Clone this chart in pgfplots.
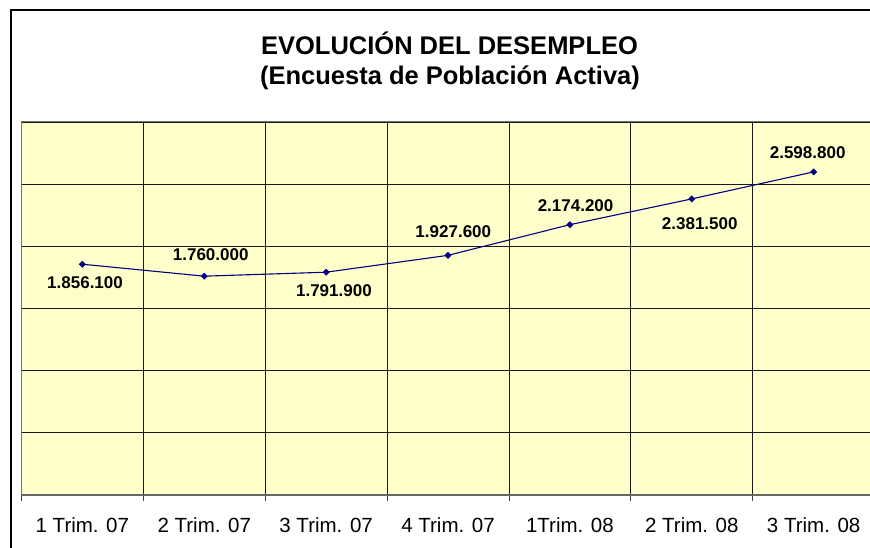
\documentclass[border=0pt]{standalone}
\usepackage{pgfplots}
\usepackage{pgfplotstable}
\pgfplotsset{compat=1.18}
\usepackage{fontspec}
\setmainfont{Liberation Sans}
\definecolor{plotbg}{HTML}{FFFFCC}
\definecolor{navyline}{HTML}{000080}

\pgfplotstableread{
x y dx dy lab
0 1856.1 2.7 -18.8 1.856.100
1 1760.0 6.5 21.2 1.760.000
2 1791.9 7.8 -18.2 1.791.900
3 1927.6 5.3 23.3 1.927.600
4 2174.2 5.7 18.7 2.174.200
5 2381.5 8.0 -25.0 2.381.500
6 2598.8 -6.0 19.0 2.598.800
}\datatable

\begin{document}
\begin{tikzpicture}
\path[use as bounding box, clip] (0,0) rectangle (870pt,547pt);
\fill[white] (0,0) rectangle (870pt,547pt);
\draw[line width=1.5pt, black] (11pt,-20pt) -- (11pt,537pt) -- (900pt,537pt);
\node[font=\bfseries\fontsize{25.5}{30}\selectfont, anchor=base, inner sep=0pt] at (449.5pt,492.7pt) {EVOLUCIÓN DEL DESEMPLEO};
\node[font=\bfseries\fontsize{25.5}{30}\selectfont, anchor=base, inner sep=0pt] at (450pt,462.5pt) {(Encuesta de Población Activa)};
\begin{axis}[
  at={(21.4pt,52pt)}, anchor=south west,
  scale only axis, width=853.2pt, height=373pt,
  xmin=-0.5, xmax=6.5, ymin=0, ymax=3000,
  axis background/.style={fill=plotbg},
  xtick={0,...,6},
  xticklabels={1 Trim. 07, 2 Trim. 07, 3 Trim. 07, 4 Trim. 07, 1Trim. 08, 2 Trim. 08, 3 Trim. 08},
  major x tick style={draw=none},
  minor xtick={-0.5,0.5,...,6.5},
  xminorgrids=true,
  minor x tick style={draw=black!75, line width=0.8pt},
  minor tick length=6pt,
  ytick={0,500,1000,1500,2000,2500,3000},
  yticklabels={},
  major y tick style={draw=none},
  ymajorgrids=true,
  grid style={draw=black!90, line width=0.8pt},
  minor grid style={draw=black!90, line width=0.8pt},
  axis line style={draw=black!55, line width=1pt},
  tick align=outside,
  tick pos=left,
  xticklabel style={font=\fontsize{20.5}{20.5}\selectfont, inner sep=0pt, anchor=north, yshift=-18pt},
  clip=false,
]
\draw[black!60, line width=2pt] (rel axis cs:0,0) -- (rel axis cs:1,0);
\addplot[navyline, line width=1.1pt, mark=square*, mark size=2.2pt,
  mark options={fill=navyline, draw=navyline, line width=0.5pt, rotate=45},
  nodes near coords, point meta=explicit symbolic,
  visualization depends on={\thisrow{dx} \as \dx},
  visualization depends on={\thisrow{dy} \as \dy},
  every node near coord/.append style={anchor=center, inner sep=0pt, xshift=\dx pt, yshift=\dy pt, text=black, font=\bfseries\fontsize{17}{17}\selectfont}
] table[x=x, y=y, meta=lab] {\datatable};
\end{axis}
\end{tikzpicture}
\end{document}
